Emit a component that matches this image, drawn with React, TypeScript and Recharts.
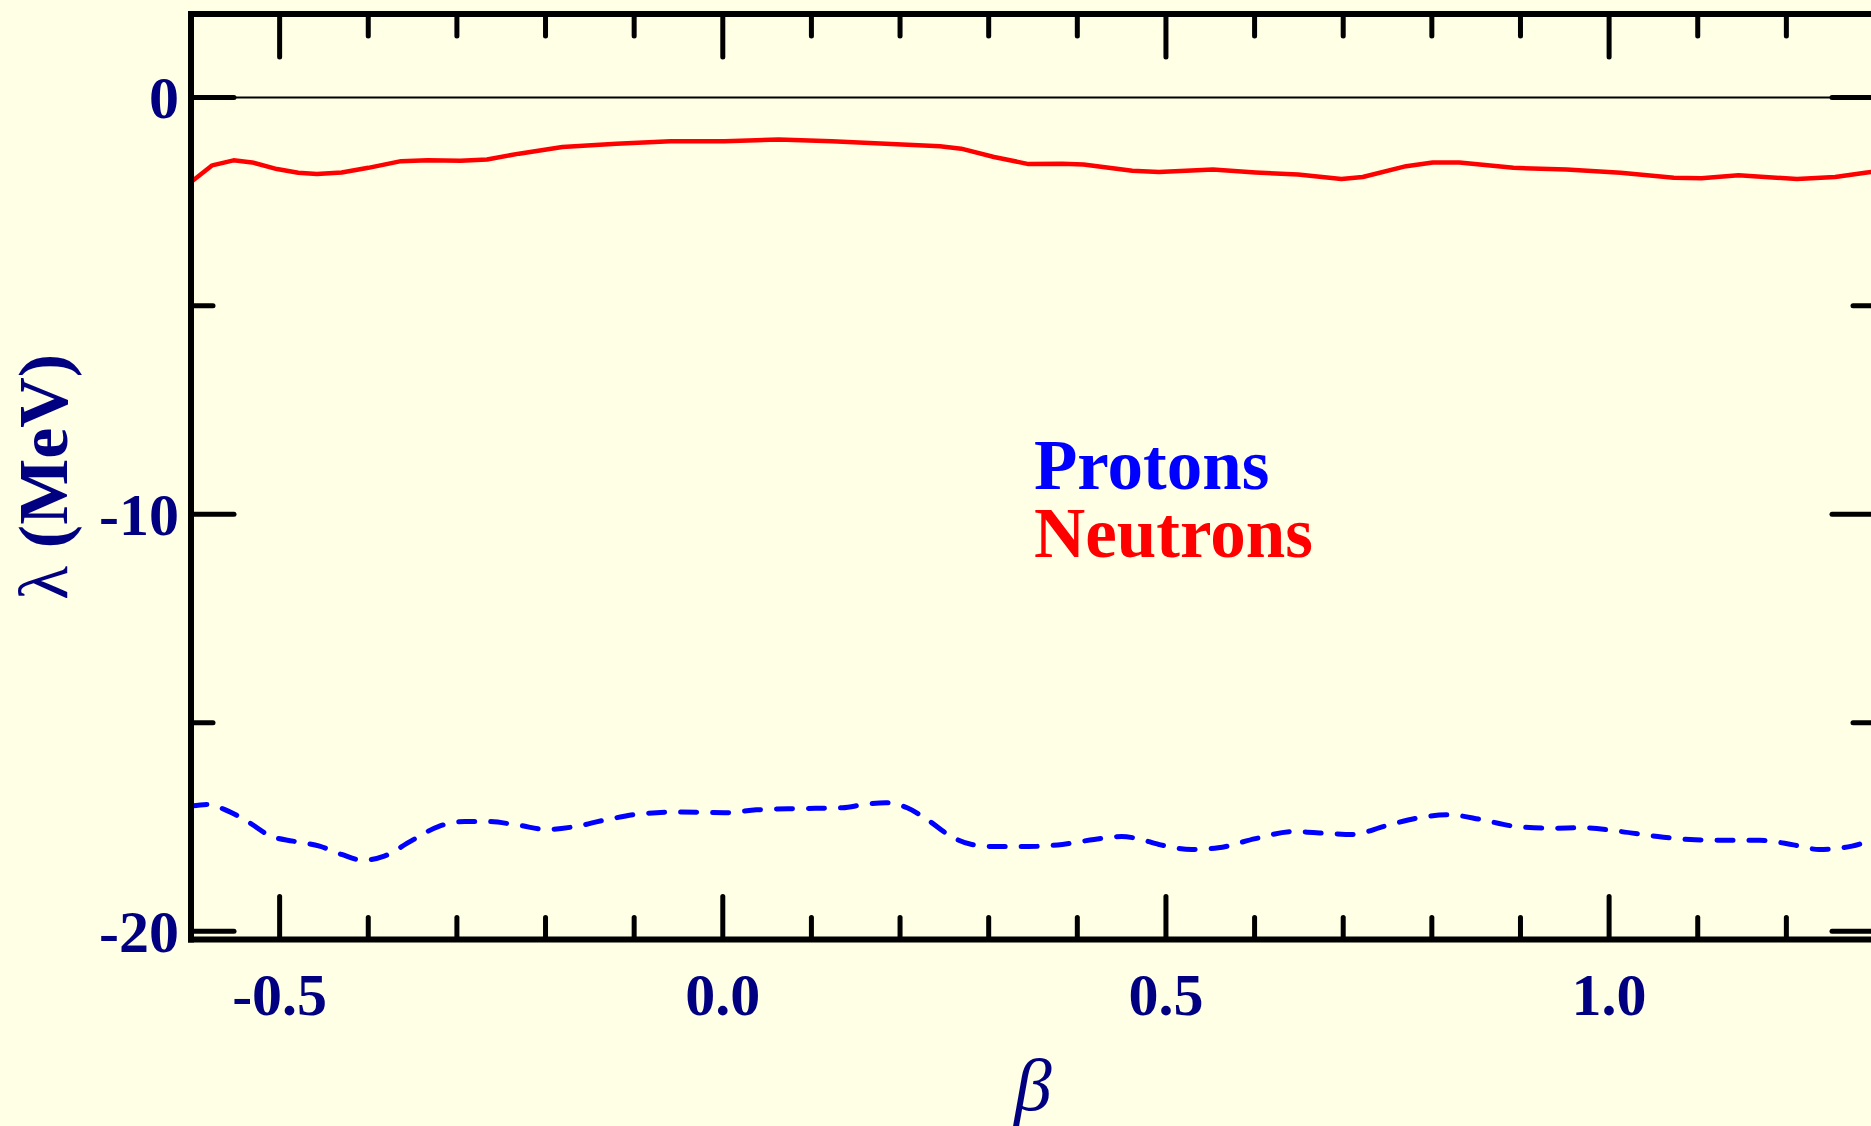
import React from "react";
import { LineChart, Line, XAxis, YAxis, ReferenceLine, Legend } from "recharts";

// ---- data ----
const neutronBeta = [-0.6, -0.576, -0.552, -0.531, -0.503, -0.479, -0.458, -0.43, -0.4, -0.363, -0.333, -0.296, -0.266, -0.23, -0.181, -0.12, -0.059, 0.002, 0.063, 0.123, 0.184, 0.245, 0.269, 0.306, 0.345, 0.383, 0.407, 0.462, 0.492, 0.553, 0.601, 0.649, 0.698, 0.722, 0.771, 0.801, 0.831, 0.892, 0.952, 1.013, 1.073, 1.104, 1.146, 1.212, 1.255, 1.291, 1.3];
const neutronLambda = [-2.03, -1.63, -1.51, -1.56, -1.72, -1.81, -1.84, -1.8, -1.69, -1.53, -1.51, -1.52, -1.49, -1.35, -1.19, -1.11, -1.05, -1.05, -1.01, -1.05, -1.11, -1.17, -1.23, -1.43, -1.6, -1.59, -1.61, -1.76, -1.79, -1.73, -1.8, -1.85, -1.96, -1.91, -1.65, -1.56, -1.56, -1.69, -1.73, -1.81, -1.93, -1.94, -1.87, -1.96, -1.91, -1.8, -1.78];

const protonBeta = [-0.6, -0.582, -0.558, -0.534, -0.51, -0.485, -0.455, -0.43, -0.406, -0.382, -0.352, -0.321, -0.291, -0.266, -0.23, -0.199, -0.169, -0.132, -0.09, -0.047, 0.002, 0.038, 0.086, 0.135, 0.16, 0.184, 0.208, 0.233, 0.257, 0.281, 0.306, 0.345, 0.383, 0.419, 0.45, 0.468, 0.492, 0.529, 0.559, 0.601, 0.644, 0.686, 0.71, 0.747, 0.783, 0.819, 0.855, 0.892, 0.934, 0.97, 1.013, 1.055, 1.097, 1.133, 1.17, 1.208, 1.237, 1.274, 1.3];
const protonLambda = [-17.0, -16.96, -17.12, -17.4, -17.72, -17.84, -17.96, -18.16, -18.3, -18.2, -17.84, -17.49, -17.37, -17.37, -17.46, -17.56, -17.5, -17.33, -17.18, -17.14, -17.16, -17.09, -17.06, -17.04, -16.96, -16.92, -17.04, -17.36, -17.72, -17.92, -17.97, -17.97, -17.92, -17.8, -17.73, -17.78, -17.92, -18.04, -18.0, -17.78, -17.61, -17.66, -17.68, -17.48, -17.29, -17.21, -17.32, -17.48, -17.53, -17.52, -17.61, -17.73, -17.81, -17.82, -17.82, -17.93, -18.04, -17.96, -17.78];

const seriesNames = ["Protons", "Neutrons"];

const xTicks = [-0.5, -0.4, -0.3, -0.2, -0.1, 0, 0.1, 0.2, 0.3, 0.4, 0.5, 0.6, 0.7, 0.8, 0.9, 1.0, 1.1, 1.2];
const xMajorTicks = [-0.5, 0, 0.5, 1.0];
const xTickLabels = ["-0.5", "0.0", "0.5", "1.0"];

const yTicks = [-20, -15, -10, -5, 0];
const yMajorTicks = [-20, -10, 0];
const yTickLabels = ["-20", "-10", "0"];

const xDomain = [-0.6, 1.3];
const yDomain = [-20.2, 2];

const xLabel = "β";
const yLabelSymbol = "λ";
const yLabelUnit = "(MeV)";

// ---- build series tables ----
const neutronData = neutronBeta.map((b, i) => ({ beta: b, lambda: neutronLambda[i] }));
const protonData = protonBeta.map((b, i) => ({ beta: b, lambda: protonLambda[i] }));

const NAVY = "#000080";
const FONT = "'Liberation Serif', 'Times New Roman', serif";
const MAJOR = 43;
const MINOR = 22;
const TICK_W = 5;

const findIdx = (arr: number[], v: number) => arr.findIndex((m) => Math.abs(m - v) < 1e-6);

const BottomTick = (props: any) => {
  const { x, y, payload } = props;
  const idx = findIdx(xMajorTicks, payload.value);
  const len = idx >= 0 ? MAJOR : MINOR;
  return (
    <g>
      <line x1={x} x2={x} y1={y} y2={y - len} stroke="#000" strokeWidth={TICK_W} strokeLinecap="round" />
      {idx >= 0 && (
        <text x={x} y={y + 75} textAnchor="middle" fontFamily={FONT} fontWeight="bold" fontSize={60} fill={NAVY}>
          {xTickLabels[idx]}
        </text>
      )}
    </g>
  );
};

const TopTick = (props: any) => {
  const { x, y, payload } = props;
  const idx = findIdx(xMajorTicks, payload.value);
  const len = idx >= 0 ? MAJOR : MINOR;
  return <line x1={x} x2={x} y1={y} y2={y + len} stroke="#000" strokeWidth={TICK_W} strokeLinecap="round" />;
};

const LeftTick = (props: any) => {
  const { x, y, payload } = props;
  const idx = findIdx(yMajorTicks, payload.value);
  const len = idx >= 0 ? MAJOR : MINOR;
  return (
    <g>
      <line x1={x} x2={x + len} y1={y} y2={y} stroke="#000" strokeWidth={TICK_W} strokeLinecap="round" />
      {idx >= 0 && (
        <text x={x - 12} y={y + 21} textAnchor="end" fontFamily={FONT} fontWeight="bold" fontSize={60} fill={NAVY}>
          {yTickLabels[idx]}
        </text>
      )}
    </g>
  );
};

const RightTick = (props: any) => {
  const { x, y, payload } = props;
  const idx = findIdx(yMajorTicks, payload.value);
  const len = idx >= 0 ? MAJOR : MINOR;
  return <line x1={x} x2={x - len} y1={y} y2={y} stroke="#000" strokeWidth={TICK_W} strokeLinecap="round" />;
};

const XTitle = (props: any) => {
  const vb = props.viewBox || {};
  return (
    <text x={vb.x + vb.width / 2} y={vb.y + 170} textAnchor="middle" fontFamily={FONT} fontStyle="italic" fontSize={75} fill={NAVY}>
      {xLabel}
    </text>
  );
};

const YTitle = (props: any) => {
  const vb = props.viewBox || {};
  const cx = vb.x + vb.width - 124;
  const cy = vb.y + vb.height / 2;
  return (
    <text x={cx} y={cy} transform={`rotate(-90, ${cx}, ${cy})`} textAnchor="middle" fontFamily={FONT} fontSize={70} fill={NAVY}>
      <tspan>{yLabelSymbol}</tspan>
      <tspan fontWeight="bold">{" " + yLabelUnit}</tspan>
    </text>
  );
};

const seriesColors: Record<string, string> = { Protons: "#0000ff", Neutrons: "#ff0000" };

const LegendBox = () => (
  <div style={{ fontFamily: FONT, fontWeight: "bold", fontSize: 71, lineHeight: "68px", whiteSpace: "nowrap" }}>
    {seriesNames.map((n) => (
      <div key={n} style={{ color: seriesColors[n] }}>
        {n}
      </div>
    ))}
  </div>
);

const axisLineStyle = { stroke: "#000", strokeWidth: 6, strokeLinecap: "square" as const };

export default function App() {
  return (
    <div style={{ position: "absolute", left: 0, top: 0, width: 1871, height: 1126, overflow: "hidden", background: "#ffffe5" }}>
      <LineChart width={1880} height={1126} margin={{ top: 13, right: 4, bottom: 185.5, left: 190 }}>
        <XAxis
          xAxisId="bottom"
          dataKey="beta"
          type="number"
          orientation="bottom"
          domain={xDomain}
          allowDataOverflow
          ticks={xTicks}
          interval={0}
          height={1}
          tickSize={0}
          tickMargin={0}
          tickLine={false}
          tick={<BottomTick />}
          axisLine={axisLineStyle}
          label={(p: any) => <XTitle {...p} />}
        />
        <XAxis
          xAxisId="top"
          dataKey="beta"
          type="number"
          orientation="top"
          domain={xDomain}
          allowDataOverflow
          ticks={xTicks}
          interval={0}
          height={1}
          tickSize={0}
          tickMargin={0}
          tickLine={false}
          tick={<TopTick />}
          axisLine={axisLineStyle}
        />
        <YAxis
          yAxisId="left"
          type="number"
          orientation="left"
          domain={yDomain}
          allowDataOverflow
          ticks={yTicks}
          interval={0}
          width={1}
          tickSize={0}
          tickMargin={0}
          tickLine={false}
          tick={<LeftTick />}
          axisLine={axisLineStyle}
          label={(p: any) => <YTitle {...p} />}
        />
        <YAxis
          yAxisId="right"
          type="number"
          orientation="right"
          domain={yDomain}
          allowDataOverflow
          ticks={yTicks}
          interval={0}
          width={1}
          tickSize={0}
          tickMargin={0}
          tickLine={false}
          tick={<RightTick />}
          axisLine={axisLineStyle}
        />
        <ReferenceLine y={0} xAxisId="bottom" yAxisId="left" stroke="#000" strokeWidth={2} />
        <Line
          name={seriesNames[0]}
          data={protonData}
          dataKey="lambda"
          xAxisId="top"
          yAxisId="right"
          type="monotone"
          stroke="#0000ff"
          strokeWidth={5}
          strokeDasharray="16 16"
          strokeLinecap="round"
          dot={false}
          activeDot={false}
          isAnimationActive={false}
        />
        <Line
          name={seriesNames[1]}
          data={neutronData}
          dataKey="lambda"
          xAxisId="bottom"
          yAxisId="left"
          type="linear"
          stroke="#ff0000"
          strokeWidth={4.5}
          strokeLinejoin="round"
          dot={false}
          activeDot={false}
          isAnimationActive={false}
        />
        <Legend
          layout="vertical"
          align="center"
          verticalAlign="middle"
          wrapperStyle={{ position: "absolute", left: 1034, top: 431, width: "auto", height: "auto" }}
          content={() => <LegendBox />}
        />
      </LineChart>
    </div>
  );
}
